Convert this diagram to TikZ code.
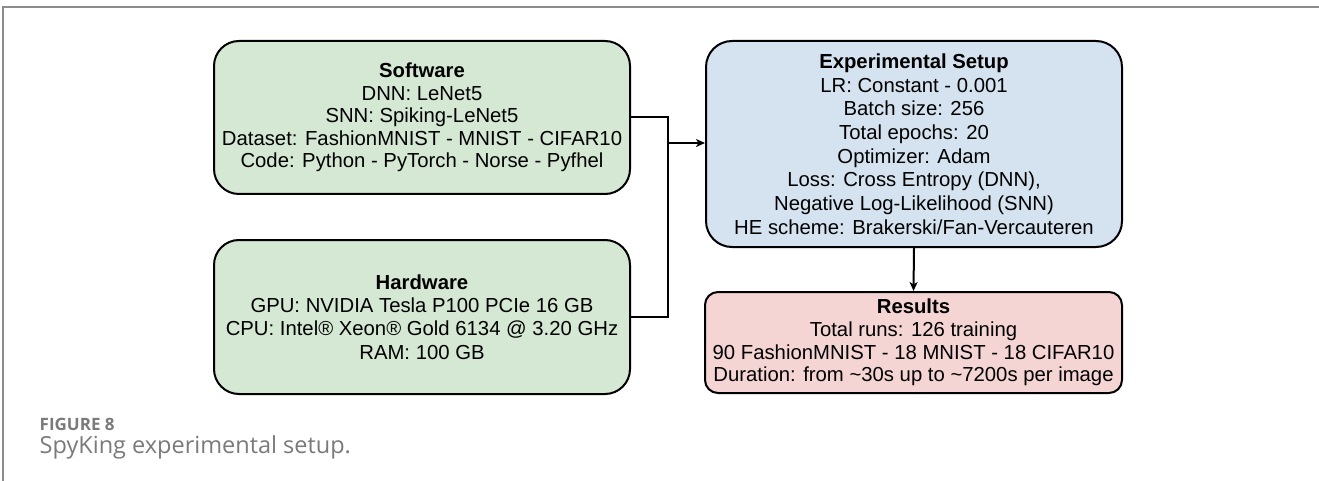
\documentclass[tikz,border=0pt]{standalone}
\usepackage{fontspec}
\setmainfont{Liberation Sans}
\newfontfamily\capfont{Open Sans}
\usetikzlibrary{arrows.meta}
\definecolor{swgreen}{HTML}{D5E8D4}
\definecolor{setupblue}{HTML}{D4E3EF}
\definecolor{resred}{HTML}{F5D4D4}
\definecolor{framegray}{HTML}{8C8C8C}
\definecolor{capgray}{HTML}{7A7A7A}
\tikzset{
  box/.style={draw=black, line width=2pt, align=center, inner sep=0pt,
    font=\fontsize{20.3}{#1}\selectfont},
  box/.default=23,
  link/.style={draw=black, line width=2pt},
  tip/.style={-{Stealth[length=9pt,width=8pt,inset=2.5pt]}},
  figlabel/.style={anchor=base west, inner sep=0pt, text=capgray,
    font={\capfont\bfseries\fontsize{17}{20}\selectfont}},
  figcaption/.style={anchor=base west, inner sep=0pt, text=capgray,
    font={\capfont\fontsize{23.5}{28}\selectfont}}
}
\begin{document}
\begin{tikzpicture}[x=1pt,y=-1pt]
\useasboundingbox (0,0) rectangle (1319,481);
% page frame
\draw[framegray, line width=2pt] (1319,7.5) -- (3,7.5) -- (3,481);

% boxes
\node[box=22.5, fill=swgreen, rounded corners=25pt, minimum width=416pt, minimum height=153pt]
  (sw) at (422,117.5) {\textbf{Software}\\DNN: LeNet5\\SNN: Spiking-LeNet5\\Dataset: FashionMNIST - MNIST - CIFAR10\\Code: Python - PyTorch - Norse - Pyfhel};
\node[box=23.3, fill=swgreen, rounded corners=25pt, minimum width=416pt, minimum height=154pt]
  (hw) at (422,317) {\textbf{Hardware}\\GPU: NVIDIA Tesla P100 PCIe 16 GB\\CPU: Intel® Xeon® Gold 6134 @ 3.20 GHz\\RAM: 100 GB};
\node[box=23.7, fill=setupblue, rounded corners=26pt, minimum width=416pt, minimum height=206pt]
  (exp) at (914,144) {\textbf{Experimental Setup}\\LR: Constant - 0.001\\Batch size: 256\\Total epochs: 20\\Optimizer: Adam\\Loss: Cross Entropy (DNN),\\Negative Log-Likelihood (SNN)\\HE scheme: Brakerski/Fan-Vercauteren};
\node[box=22.8, fill=resred, rounded corners=13pt, minimum width=417pt, minimum height=101pt]
  (res) at (913.5,342.5) {\textbf{Results}\\Total runs: 126 training\\90 FashionMNIST - 18 MNIST - 18 CIFAR10\\Duration: from \textasciitilde30s up to \textasciitilde7200s per image};

% connectors
\coordinate (j) at (668,143);
\draw[link] (sw.east) -| (j) |- (hw.east);
\draw[link, tip] (j) -- (exp.west |- j);
\draw[link, tip] (exp.south) -- (res.north);

% caption
\node[figlabel] (fig) at (39.5,430) {FIGURE 8};
\node[figcaption] (cap) at (39.5,453.5) {SpyKing experimental setup.};
\end{tikzpicture}
\end{document}
